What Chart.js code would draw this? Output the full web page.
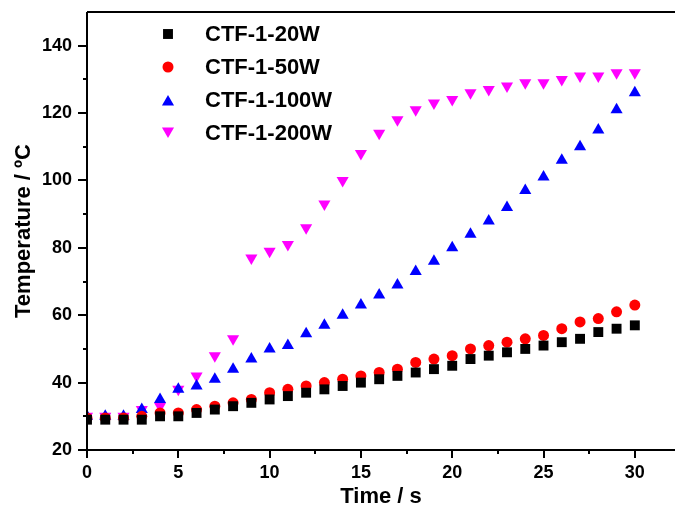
<!DOCTYPE html>
<html lang="en">

<head>
    <meta charset="UTF-8">
    <title>CTF-1 heating curves</title>
    <script src="https://cdn.jsdelivr.net/npm/chart.js"></script>
    <style>
        body { margin: 0; background: #fff; }
    </style>
</head>

<body>
    <canvas id="tempChart" width="675" height="511"></canvas>
    <script>
        // time in seconds, one reading per second
        const times = [0, 1, 2, 3, 4, 5, 6, 7, 8, 9, 10, 11, 12, 13, 14, 15, 16, 17, 18, 19, 20, 21, 22, 23, 24, 25, 26, 27, 28, 29, 30];

        const seriesNames = ['CTF-1-20W', 'CTF-1-50W', 'CTF-1-100W', 'CTF-1-200W'];

        const temp20W = [29, 29, 29, 29, 30, 30, 31, 32, 33, 34, 35, 36, 37, 38, 39, 40, 41, 42, 43, 44, 45, 47, 48, 49, 50, 51, 52, 53, 55, 56, 57];
        const temp50W = [29.5, 29.5, 29.5, 30, 31, 31, 32, 33, 34, 35, 37, 38, 39, 40, 41, 42, 43, 44, 46, 47, 48, 50, 51, 52, 53, 54, 56, 58, 59, 61, 63];
        const temp100W = [30, 30, 30, 32, 35, 38, 39, 41, 44, 47, 50, 51, 54.5, 57, 60, 63, 66, 69, 73, 76, 80, 84, 88, 92, 97, 101, 106, 110, 115, 121, 126];
        const temp200W = [30, 30, 30, 32, 33, 38, 42, 48, 53, 77, 79, 81, 86, 93, 100, 108, 114, 118, 121, 123, 124, 126, 127, 128, 129, 129, 130, 131, 131, 132, 132];

        const xMajorTicks = [0, 5, 10, 15, 20, 25, 30];
        const yMajorTicks = [20, 40, 60, 80, 100, 120, 140];

        const FONT = "'Liberation Sans', Arial, sans-serif";

        function toPoints(values) {
            return values.map((v, i) => ({ x: times[i], y: v }));
        }

        const datasets = [
            { label: seriesNames[0], data: toPoints(temp20W), pointStyle: 'rect', pointRadius: 7, backgroundColor: '#000000', borderColor: '#000000' },
            { label: seriesNames[1], data: toPoints(temp50W), pointStyle: 'circle', pointRadius: 5.5, backgroundColor: '#ff0000', borderColor: '#ff0000' },
            { label: seriesNames[2], data: toPoints(temp100W), pointStyle: 'triangle', pointRadius: 7, backgroundColor: '#0000ff', borderColor: '#0000ff' },
            { label: seriesNames[3], data: toPoints(temp200W), pointStyle: 'triangle', pointRotation: 180, pointRadius: 7, backgroundColor: '#ff00ff', borderColor: '#ff00ff' }
        ];
        datasets.forEach(ds => {
            ds.borderWidth = 0;
            ds.pointHoverRadius = ds.pointRadius;
            ds.showLine = false;
        });

        // axis lines + outward tick marks, drawn from the scales
        const axisFrame = {
            id: 'axisFrame',
            afterDraw(chart) {
                const ctx = chart.ctx;
                const area = chart.chartArea;
                const xs = chart.scales.x;
                const ys = chart.scales.y;
                ctx.save();
                ctx.strokeStyle = '#000';
                ctx.lineWidth = 2;
                ctx.beginPath();
                ctx.moveTo(area.left, area.top);
                ctx.lineTo(area.right, area.top);
                ctx.moveTo(area.left, area.top);
                ctx.lineTo(area.left, area.bottom);
                ctx.lineTo(area.right, area.bottom);
                ctx.stroke();

                ctx.beginPath();
                for (let v = 0; v <= 30; v += 2.5) {
                    const px = Math.round(xs.getPixelForValue(v));
                    const len = xMajorTicks.includes(v) ? 8 : 4;
                    ctx.moveTo(px, area.bottom);
                    ctx.lineTo(px, area.bottom + len);
                }
                for (let v = 20; v <= 140; v += 10) {
                    const py = Math.round(ys.getPixelForValue(v));
                    const len = yMajorTicks.includes(v) ? 9 : 4;
                    ctx.moveTo(area.left, py);
                    ctx.lineTo(area.left - len, py);
                }
                ctx.stroke();
                ctx.restore();
            }
        };

        // legend sitting inside the plot, top left
        const innerLegend = {
            id: 'innerLegend',
            afterDraw(chart) {
                const ctx = chart.ctx;
                ctx.save();
                ctx.font = 'bold 22px ' + FONT;
                ctx.textBaseline = 'middle';
                chart.data.datasets.forEach((ds, i) => {
                    const y = 34 + i * 33;
                    ctx.fillStyle = ds.backgroundColor;
                    ctx.strokeStyle = ds.borderColor;
                    Chart.helpers.drawPoint(ctx, {
                        pointStyle: ds.pointStyle,
                        rotation: ds.pointRotation || 0,
                        radius: ds.pointRadius,
                        borderWidth: 0
                    }, 168, y + (ds.pointStyle === 'triangle' ? (ds.pointRotation ? -2 : 2) : 0));
                    ctx.fillStyle = '#000';
                    ctx.fillText(ds.label, 205, y + 1);
                });
                ctx.restore();
            }
        };

        const ctx = document.getElementById('tempChart').getContext('2d');
        new Chart(ctx, {
            type: 'scatter',
            data: { datasets: datasets },
            options: {
                responsive: false,
                animation: false,
                layout: { autoPadding: false, padding: { top: 12, right: 0, left: 0, bottom: 0 } },
                plugins: {
                    legend: { display: false },
                    tooltip: { enabled: false }
                },
                scales: {
                    x: {
                        type: 'linear',
                        min: 0,
                        max: 32.2,
                        grid: { display: false, drawTicks: false },
                        border: { display: false },
                        afterBuildTicks(scale) {
                            scale.ticks = xMajorTicks.map(v => ({ value: v }));
                        },
                        ticks: {
                            padding: 12,
                            maxRotation: 0,
                            autoSkip: false,
                            color: '#000',
                            font: { family: FONT, size: 18, weight: 'bold' }
                        },
                        title: {
                            display: true,
                            text: 'Time / s',
                            color: '#000',
                            font: { family: FONT, size: 22, weight: 'bold' },
                            padding: { top: 0, bottom: 1 }
                        },
                        afterFit(scale) {
                            scale.height = 61;
                            scale.paddingLeft = 0;
                            scale.paddingRight = 0;
                        }
                    },
                    y: {
                        min: 20,
                        max: 150,
                        grid: { display: false, drawTicks: false },
                        border: { display: false },
                        afterBuildTicks(scale) {
                            scale.ticks = yMajorTicks.map(v => ({ value: v }));
                        },
                        ticks: {
                            padding: 15,
                            autoSkip: false,
                            color: '#000',
                            font: { family: FONT, size: 18, weight: 'bold' }
                        },
                        title: {
                            display: true,
                            text: 'Temperature / ºC',
                            color: '#000',
                            font: { family: FONT, size: 22, weight: 'bold' },
                            padding: { top: 11, bottom: 0 }
                        },
                        afterFit(scale) {
                            scale.width = 87;
                            scale.paddingTop = 0;
                            scale.paddingBottom = 0;
                        }
                    }
                }
            },
            plugins: [axisFrame, innerLegend]
        });
    </script>
</body>

</html>
